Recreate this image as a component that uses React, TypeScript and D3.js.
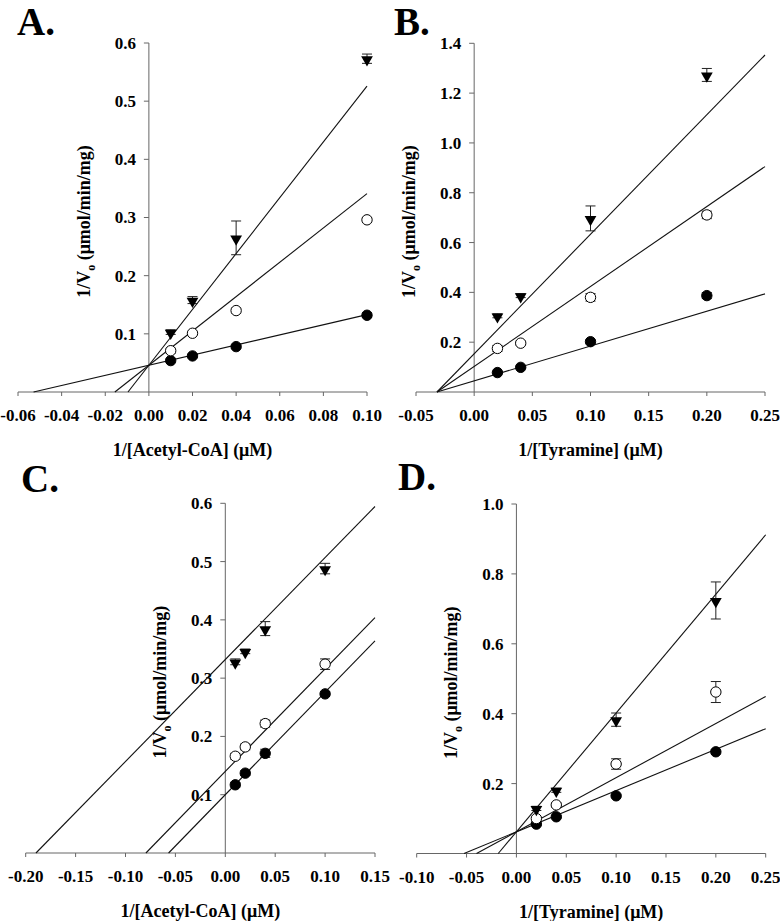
import React from "react";
import * as d3 from "d3";

// ---------- DATA ----------
const xAcetyl = [0.01, 0.02, 0.04, 0.1];
const xTyramine = [0.02, 0.04, 0.1, 0.2];

const aFilled = [0.054, 0.062, 0.078, 0.132];
const aFilledErr = [0.003, 0.003, 0.003, 0.004];
const aOpen = [0.071, 0.101, 0.14, 0.296];
const aOpenErr = [0.004, 0.003, 0.004, 0.004];
const aTri = [0.103, 0.158, 0.265, 0.573];
const aTriErr = [0.004, 0.006, 0.029, 0.008];
const aSlopes = [0.87, 2.95, 4.8];
const aIntercepts = [0.046, 0.046, 0.046];

const bFilled = [0.078, 0.099, 0.202, 0.387];
const bFilledErr = [0.005, 0.005, 0.008, 0.012];
const bOpen = [0.175, 0.196, 0.38, 0.711];
const bOpenErr = [0.012, 0.008, 0.015, 0.015];
const bTri = [0.306, 0.387, 0.697, 1.273];
const bTriErr = [0.008, 0.008, 0.05, 0.026];
const bSlopes = [1.397, 3.209, 4.798];
const bIntercepts = [0.0447, 0.1027, 0.1535];

const cFilled = [0.117, 0.137, 0.171, 0.273];
const cFilledErr = [0.004, 0.004, 0.007, 0.004];
const cOpen = [0.166, 0.182, 0.222, 0.324];
const cOpenErr = [0.005, 0.005, 0.006, 0.009];
const cTri = [0.328, 0.346, 0.385, 0.488];
const cTriErr = [0.005, 0.004, 0.012, 0.009];
const cSlopes = [1.76, 1.76, 1.75];
const cIntercepts = [0.1, 0.14, 0.332];

const dFilled = [0.084, 0.105, 0.165, 0.291];
const dFilledErr = [0.004, 0.004, 0.004, 0.006];
const dOpen = [0.1, 0.139, 0.256, 0.462];
const dOpenErr = [0.005, 0.006, 0.015, 0.03];
const dTri = [0.129, 0.181, 0.383, 0.724];
const dTriErr = [0.006, 0.006, 0.019, 0.053];
const dSlopes = [1.18, 1.55, 3.4];
const dIntercepts = [0.062, 0.062, 0.062];

const xTicksA = [-0.06, -0.04, -0.02, 0.0, 0.02, 0.04, 0.06, 0.08, 0.1];
const yTicksA = [0.1, 0.2, 0.3, 0.4, 0.5, 0.6];
const xTicksB = [-0.05, 0.0, 0.05, 0.1, 0.15, 0.2, 0.25];
const yTicksB = [0.2, 0.4, 0.6, 0.8, 1.0, 1.2, 1.4];
const xTicksC = [-0.2, -0.15, -0.1, -0.05, 0.0, 0.05, 0.1, 0.15];
const yTicksC = [0.1, 0.2, 0.3, 0.4, 0.5, 0.6];
const xTicksD = [-0.1, -0.05, 0.0, 0.05, 0.1, 0.15, 0.2, 0.25];
const yTicksD = [0.2, 0.4, 0.6, 0.8, 1.0];

const FONT = "'Liberation Serif', 'Times New Roman', serif";
const AXIS_COLOR = "#666";

type Series = { y: number[]; err: number[]; kind: "filled" | "open" | "tri" };

function fmt(v: number, d: number) {
  const s = Math.abs(v).toFixed(d);
  return (v < -1e-9 ? "-" : "") + s;
}

function Panel(props: {
  letter: string;
  letterX: number;
  letterY: number;
  xDomain: [number, number];
  xRange: [number, number];
  yDomain: [number, number];
  yRange: [number, number];
  xTicks: number[];
  yTicks: number[];
  xDec: number;
  xs: number[];
  series: Series[];
  slopes: number[];
  intercepts: number[];
  xTitle: string;
}) {
  const x = d3.scaleLinear().domain(props.xDomain).range(props.xRange);
  const y = d3.scaleLinear().domain(props.yDomain).range(props.yRange);
  const x0 = x(0);
  const y0 = y(0);
  const yTop = y(props.yDomain[1]);
  const tri = d3.symbol().type(d3.symbolTriangle).size(60)();
  const line = d3
    .line<[number, number]>()
    .x((d) => x(d[0]))
    .y((d) => y(d[1]));
  const xMid = (props.xRange[0] + props.xRange[1]) / 2;
  const yMid = (y0 + yTop) / 2;

  return (
    <g>
      <text
        x={props.letterX}
        y={props.letterY}
        fontFamily={FONT}
        fontWeight="bold"
        fontSize={39}
      >
        {props.letter}
      </text>
      {/* axes */}
      <line x1={props.xRange[0]} x2={props.xRange[1]} y1={y0} y2={y0} stroke={AXIS_COLOR} strokeWidth={1} />
      <line x1={x0} x2={x0} y1={y0} y2={yTop} stroke={AXIS_COLOR} strokeWidth={1} />
      {props.xTicks.map((t, i) => (
        <g key={"xt" + i}>
          <line x1={x(t)} x2={x(t)} y1={y0} y2={y0 + 4} stroke={AXIS_COLOR} />
          <text
            x={x(t)}
            y={y0 + 29}
            textAnchor="middle"
            fontFamily={FONT}
            fontWeight="bold"
            fontSize={17}
          >
            {fmt(t, props.xDec)}
          </text>
        </g>
      ))}
      {props.yTicks.map((t, i) => (
        <g key={"yt" + i}>
          <line x1={x0 - 5} x2={x0} y1={y(t)} y2={y(t)} stroke={AXIS_COLOR} />
          <text
            x={x0 - 13}
            y={y(t)}
            dy="0.35em"
            textAnchor="end"
            fontFamily={FONT}
            fontWeight="bold"
            fontSize={17}
          >
            {fmt(t, 1)}
          </text>
        </g>
      ))}
      <text
        x={xMid}
        y={y0 + 64}
        textAnchor="middle"
        fontFamily={FONT}
        fontWeight="bold"
        fontSize={18}
      >
        {props.xTitle}
      </text>
      <text
        transform={`translate(${x0 - 59},${yMid + 4}) rotate(-90)`}
        textAnchor="middle"
        fontFamily={FONT}
        fontWeight="bold"
        fontSize={18}
      >
        1/V
        <tspan fontSize={12} dy={5}>
          o
        </tspan>
        <tspan dy={-5}> (μmol/min/mg)</tspan>
      </text>
      {/* fitted lines */}
      {props.slopes.map((m, i) => {
        const b = props.intercepts[i];
        const xs0 = Math.max(props.xDomain[0], -b / m);
        const xs1 = props.xDomain[1];
        return (
          <path
            key={"l" + i}
            d={line([
              [xs0, m * xs0 + b],
              [xs1, m * xs1 + b],
            ]) as string}
            stroke="#111"
            strokeWidth={1.1}
            fill="none"
          />
        );
      })}
      {/* error bars */}
      {props.series.map((s, si) =>
        s.y.map((v, i) => {
          const px = x(props.xs[i]);
          const e = s.err[i];
          return (
            <g key={"e" + si + "_" + i} stroke="#222" strokeWidth={1}>
              <line x1={px} x2={px} y1={y(v - e)} y2={y(v + e)} />
              <line x1={px - 5} x2={px + 5} y1={y(v + e)} y2={y(v + e)} />
              <line x1={px - 5} x2={px + 5} y1={y(v - e)} y2={y(v - e)} />
            </g>
          );
        })
      )}
      {/* markers */}
      {props.series.map((s, si) =>
        s.y.map((v, i) => {
          const px = x(props.xs[i]);
          const py = y(v);
          if (s.kind === "tri")
            return (
              <path
                key={"m" + si + "_" + i}
                d={tri as string}
                transform={`translate(${px},${py + 1}) rotate(180)`}
                fill="#000"
              />
            );
          return (
            <circle
              key={"m" + si + "_" + i}
              cx={px}
              cy={py}
              r={5.2}
              fill={s.kind === "filled" ? "#000" : "#fff"}
              stroke="#000"
              strokeWidth={1}
            />
          );
        })
      )}
    </g>
  );
}

export default function App() {
  return (
    <svg
      width={780}
      height={921}
      style={{ position: "absolute", left: 0, top: 0, background: "#fff" }}
    >
      <rect width={780} height={921} fill="#fff" />
      <Panel
        letter="A."
        letterX={17}
        letterY={35}
        xDomain={[-0.06, 0.1]}
        xRange={[18, 367]}
        yDomain={[0, 0.6]}
        yRange={[392, 43]}
        xTicks={xTicksA}
        yTicks={yTicksA}
        xDec={2}
        xs={xAcetyl}
        series={[
          { y: aFilled, err: aFilledErr, kind: "filled" },
          { y: aOpen, err: aOpenErr, kind: "open" },
          { y: aTri, err: aTriErr, kind: "tri" },
        ]}
        slopes={aSlopes}
        intercepts={aIntercepts}
        xTitle="1/[Acetyl-CoA] (μM)"
      />
      <Panel
        letter="B."
        letterX={394}
        letterY={35}
        xDomain={[-0.05, 0.25]}
        xRange={[416, 765]}
        yDomain={[0, 1.4]}
        yRange={[392, 43.3]}
        xTicks={xTicksB}
        yTicks={yTicksB}
        xDec={2}
        xs={xTyramine}
        series={[
          { y: bFilled, err: bFilledErr, kind: "filled" },
          { y: bOpen, err: bOpenErr, kind: "open" },
          { y: bTri, err: bTriErr, kind: "tri" },
        ]}
        slopes={bSlopes}
        intercepts={bIntercepts}
        xTitle="1/[Tyramine] (μM)"
      />
      <Panel
        letter="C."
        letterX={21}
        letterY={492}
        xDomain={[-0.2, 0.15]}
        xRange={[25.7, 375]}
        yDomain={[0, 0.6]}
        yRange={[853, 503.3]}
        xTicks={xTicksC}
        yTicks={yTicksC}
        xDec={2}
        xs={xAcetyl}
        series={[
          { y: cFilled, err: cFilledErr, kind: "filled" },
          { y: cOpen, err: cOpenErr, kind: "open" },
          { y: cTri, err: cTriErr, kind: "tri" },
        ]}
        slopes={cSlopes}
        intercepts={cIntercepts}
        xTitle="1/[Acetyl-CoA] (μM)"
      />
      <Panel
        letter="D."
        letterX={398}
        letterY={490}
        xDomain={[-0.1, 0.25]}
        xRange={[416.7, 765.7]}
        yDomain={[0, 1.0]}
        yRange={[853.5, 504]}
        xTicks={xTicksD}
        yTicks={yTicksD}
        xDec={2}
        xs={xTyramine}
        series={[
          { y: dFilled, err: dFilledErr, kind: "filled" },
          { y: dOpen, err: dOpenErr, kind: "open" },
          { y: dTri, err: dTriErr, kind: "tri" },
        ]}
        slopes={dSlopes}
        intercepts={dIntercepts}
        xTitle="1/[Tyramine] (μM)"
      />
    </svg>
  );
}
